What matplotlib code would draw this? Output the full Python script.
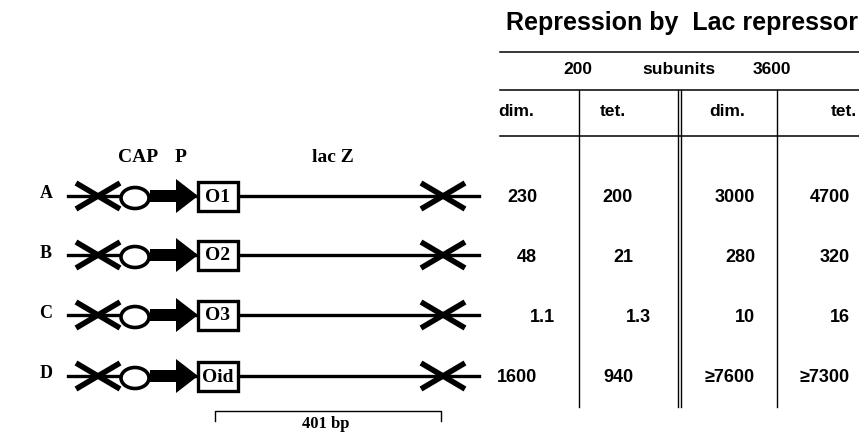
import matplotlib
matplotlib.use("Agg")
import matplotlib.pyplot as plt
from matplotlib.patches import Ellipse, Rectangle, Polygon

# constructs: row label, operator in the box
rows = ["A", "B", "C", "D"]
operators = ["O1", "O2", "O3", "Oid"]

# repression values, 200 subunits (dim., tet.) and 3600 subunits (dim., tet.)
dim_200 = ["230", "48", "1.1", "1600"]
tet_200 = ["200", "21", "1.3", "940"]
dim_3600 = ["3000", "280", "10", "\u22657600"]
tet_3600 = ["4700", "320", "16", "\u22657300"]

row_y = [196, 255, 315, 376]

fig = plt.figure(figsize=(8.59, 4.34), dpi=100)
ax = fig.add_axes([0, 0, 1, 1])
ax.set_xlim(0, 859)
ax.set_ylim(434, 0)
ax.axis("off")

serif = {"family": "Liberation Serif", "weight": "bold"}
sans = {"family": "Liberation Sans", "weight": "bold"}

# ---- gene diagrams
ax.text(138, 158, "CAP", ha="center", va="center", fontsize=14, **serif)
ax.text(181, 158, "P", ha="center", va="center", fontsize=14, **serif)
ax.text(333, 158, "lac Z", ha="center", va="center", fontsize=14, **serif)


def cross(cx, y):
    ax.plot([cx - 22, cx + 22], [y - 13, y + 13], color="black", lw=4.0,
            solid_capstyle="butt", zorder=3)
    ax.plot([cx - 22, cx + 22], [y + 13, y - 13], color="black", lw=4.0,
            solid_capstyle="butt", zorder=3)


for lab, op, y in zip(rows, operators, row_y):
    ax.text(46, y - 2, lab, ha="center", va="center", fontsize=13, **serif)
    ax.plot([68, 479], [y, y], color="black", lw=2.4, zorder=2)
    cross(98, y)
    cross(443, y)
    ax.add_patch(Ellipse((135, y + 2), 28, 21, facecolor="white",
                         edgecolor="black", lw=2.6, zorder=4))
    ax.add_patch(Rectangle((150, y - 6), 28, 12, facecolor="black",
                           edgecolor="none", zorder=4))
    ax.add_patch(Polygon([(176, y - 17), (198, y), (176, y + 17)],
                         closed=True, facecolor="black", edgecolor="none", zorder=4))
    ax.add_patch(Rectangle((198, y - 14), 40, 29, facecolor="white",
                           edgecolor="black", lw=2.4, zorder=5))
    ax.text(218, y + 1, op, ha="center", va="center", fontsize=14, zorder=6, **serif)

# scale bar
ax.plot([215, 215, 441, 441], [421, 411, 411, 421], color="black", lw=1.0)
ax.text(326, 432, "401 bp", ha="center", va="bottom", fontsize=12, **serif)

# ---- table
ax.text(682, 23, "Repression by  Lac repressor", ha="center", va="center",
        fontsize=18, **sans)
for yy in [52, 90, 136]:
    ax.plot([500, 859], [yy, yy], color="black", lw=1.1)
ax.text(578, 70, "200", ha="center", va="center", fontsize=12.5, **sans)
ax.text(679, 70, "subunits", ha="center", va="center", fontsize=12.5, **sans)
ax.text(772, 70, "3600", ha="center", va="center", fontsize=12.5, **sans)

for xx in [579, 677.5, 680.5, 777]:
    ax.plot([xx, xx], [90, 407], color="black", lw=1.0)

ax.text(498, 111, "dim.", ha="left", va="center", fontsize=12.5, **sans)
ax.text(600, 111, "tet.", ha="left", va="center", fontsize=12.5, **sans)
ax.text(745, 112, "dim.", ha="right", va="center", fontsize=12.5, **sans)
ax.text(857, 111, "tet.", ha="right", va="center", fontsize=12.5, **sans)

col_right = [537, 633, 755, 850]
for col, xr in zip([dim_200, tet_200, dim_3600, tet_3600], col_right):
    for val, y in zip(col, row_y):
        shift = 18 if "." in val else 0
        ax.text(xr + shift, y + 2, val, ha="right", va="center",
                fontsize=13, **sans)

fig.savefig("out.png", dpi=100)
